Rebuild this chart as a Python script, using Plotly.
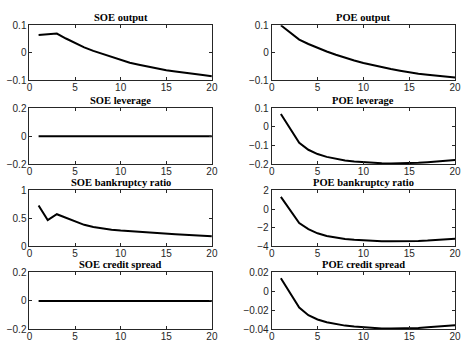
import plotly.graph_objects as go

periods = list(range(1, 21))

soe_output = [0.065, 0.068, 0.070, 0.052, 0.035, 0.020, 0.007, -0.004, -0.015, -0.027,
              -0.036, -0.043, -0.050, -0.057, -0.063, -0.068, -0.073, -0.077, -0.081, -0.085]
poe_output = [0.100, 0.075, 0.048, 0.032, 0.018, 0.005, -0.007, -0.018, -0.028, -0.037,
              -0.045, -0.052, -0.059, -0.065, -0.071, -0.076, -0.080, -0.084, -0.087, -0.090]
soe_leverage = [0.0] * 20
poe_leverage = [0.070, -0.005, -0.085, -0.122, -0.145, -0.160, -0.171, -0.179, -0.185, -0.189,
                -0.192, -0.194, -0.195, -0.195, -0.194, -0.192, -0.189, -0.186, -0.182, -0.177]
soe_bankruptcy = [0.73, 0.47, 0.575, 0.51, 0.44, 0.385, 0.345, 0.318, 0.298, 0.283,
                  0.270, 0.258, 0.247, 0.237, 0.227, 0.217, 0.207, 0.198, 0.190, 0.180]
poe_bankruptcy = [1.3, -0.1, -1.5, -2.15, -2.6, -2.88, -3.07, -3.20, -3.30, -3.37,
                  -3.42, -3.45, -3.46, -3.46, -3.44, -3.41, -3.37, -3.31, -3.25, -3.17]
soe_spread = [0.0] * 20
poe_spread = [0.014, -0.001, -0.017, -0.025, -0.0295, -0.0325, -0.0345, -0.036, -0.037, -0.0378,
              -0.0385, -0.0389, -0.039, -0.039, -0.0388, -0.0384, -0.0378, -0.0372, -0.0365, -0.0357]

titles = ["SOE output", "POE output", "SOE leverage", "POE leverage",
          "SOE bankruptcy ratio", "POE bankruptcy ratio", "SOE credit spread", "POE credit spread"]
series = [soe_output, poe_output, soe_leverage, poe_leverage,
          soe_bankruptcy, poe_bankruptcy, soe_spread, poe_spread]
y_ranges = [[-0.1, 0.1], [-0.1, 0.1], [-0.2, 0.2], [-0.2, 0.1],
            [0, 1], [-4, 2], [-0.2, 0.2], [-0.04, 0.02]]
y_ticks = [[-0.1, 0, 0.1], [-0.1, 0, 0.1], [-0.2, 0, 0.2], [-0.2, -0.1, 0, 0.1],
           [0, 0.5, 1], [-4, -2, 0, 2], [-0.2, 0, 0.2], [-0.04, -0.02, 0, 0.02]]
x_ticks = [0, 5, 10, 15, 20]

W, H = 465, 347
col_dom = [[27 / W, 213 / W], [274 / W, 461 / W]]
row_px = [(20, 77), (106, 164), (191, 249), (276, 335)]
row_dom = [[1 - b / H, 1 - t / H] for t, b in row_px]

fig = go.Figure()
axcol = "#262626"
tickfont = dict(family="Liberation Sans, Arial, sans-serif", size=10, color=axcol)

layout = dict(width=W, height=H, margin=dict(l=0, r=0, t=0, b=0),
              paper_bgcolor="white", plot_bgcolor="white", showlegend=False)
annotations = []
for i in range(8):
    r, c = divmod(i, 2)
    n = i + 1
    xa = "x" if n == 1 else f"x{n}"
    ya = "y" if n == 1 else f"y{n}"
    fig.add_trace(go.Scatter(x=periods, y=series[i], mode="lines",
                             line=dict(color="black", width=2), xaxis=xa, yaxis=ya))
    common = dict(showgrid=False, zeroline=False, showline=True, linecolor=axcol, linewidth=1,
                  mirror="ticks", ticks="inside", ticklen=3, tickcolor=axcol, tickfont=tickfont)
    layout["xaxis" if n == 1 else f"xaxis{n}"] = dict(
        domain=col_dom[c], range=[0, 20], tickvals=x_ticks, anchor=ya,
        ticklabelstandoff=-2, **common)
    layout["yaxis" if n == 1 else f"yaxis{n}"] = dict(
        domain=row_dom[r], range=y_ranges[i], tickvals=y_ticks[i], anchor=xa, **common)
    annotations.append(dict(text=f"<b>{titles[i]}</b>", x=(col_dom[c][0] + col_dom[c][1]) / 2,
                            y=row_dom[r][1], xref="paper", yref="paper", xanchor="center",
                            yanchor="bottom", yshift=0, showarrow=False,
                            font=dict(family="Liberation Serif, Times New Roman, serif",
                                      size=10.5, color="black")))
layout["annotations"] = annotations
fig.update_layout(**layout)
fig.write_html("out.html")
